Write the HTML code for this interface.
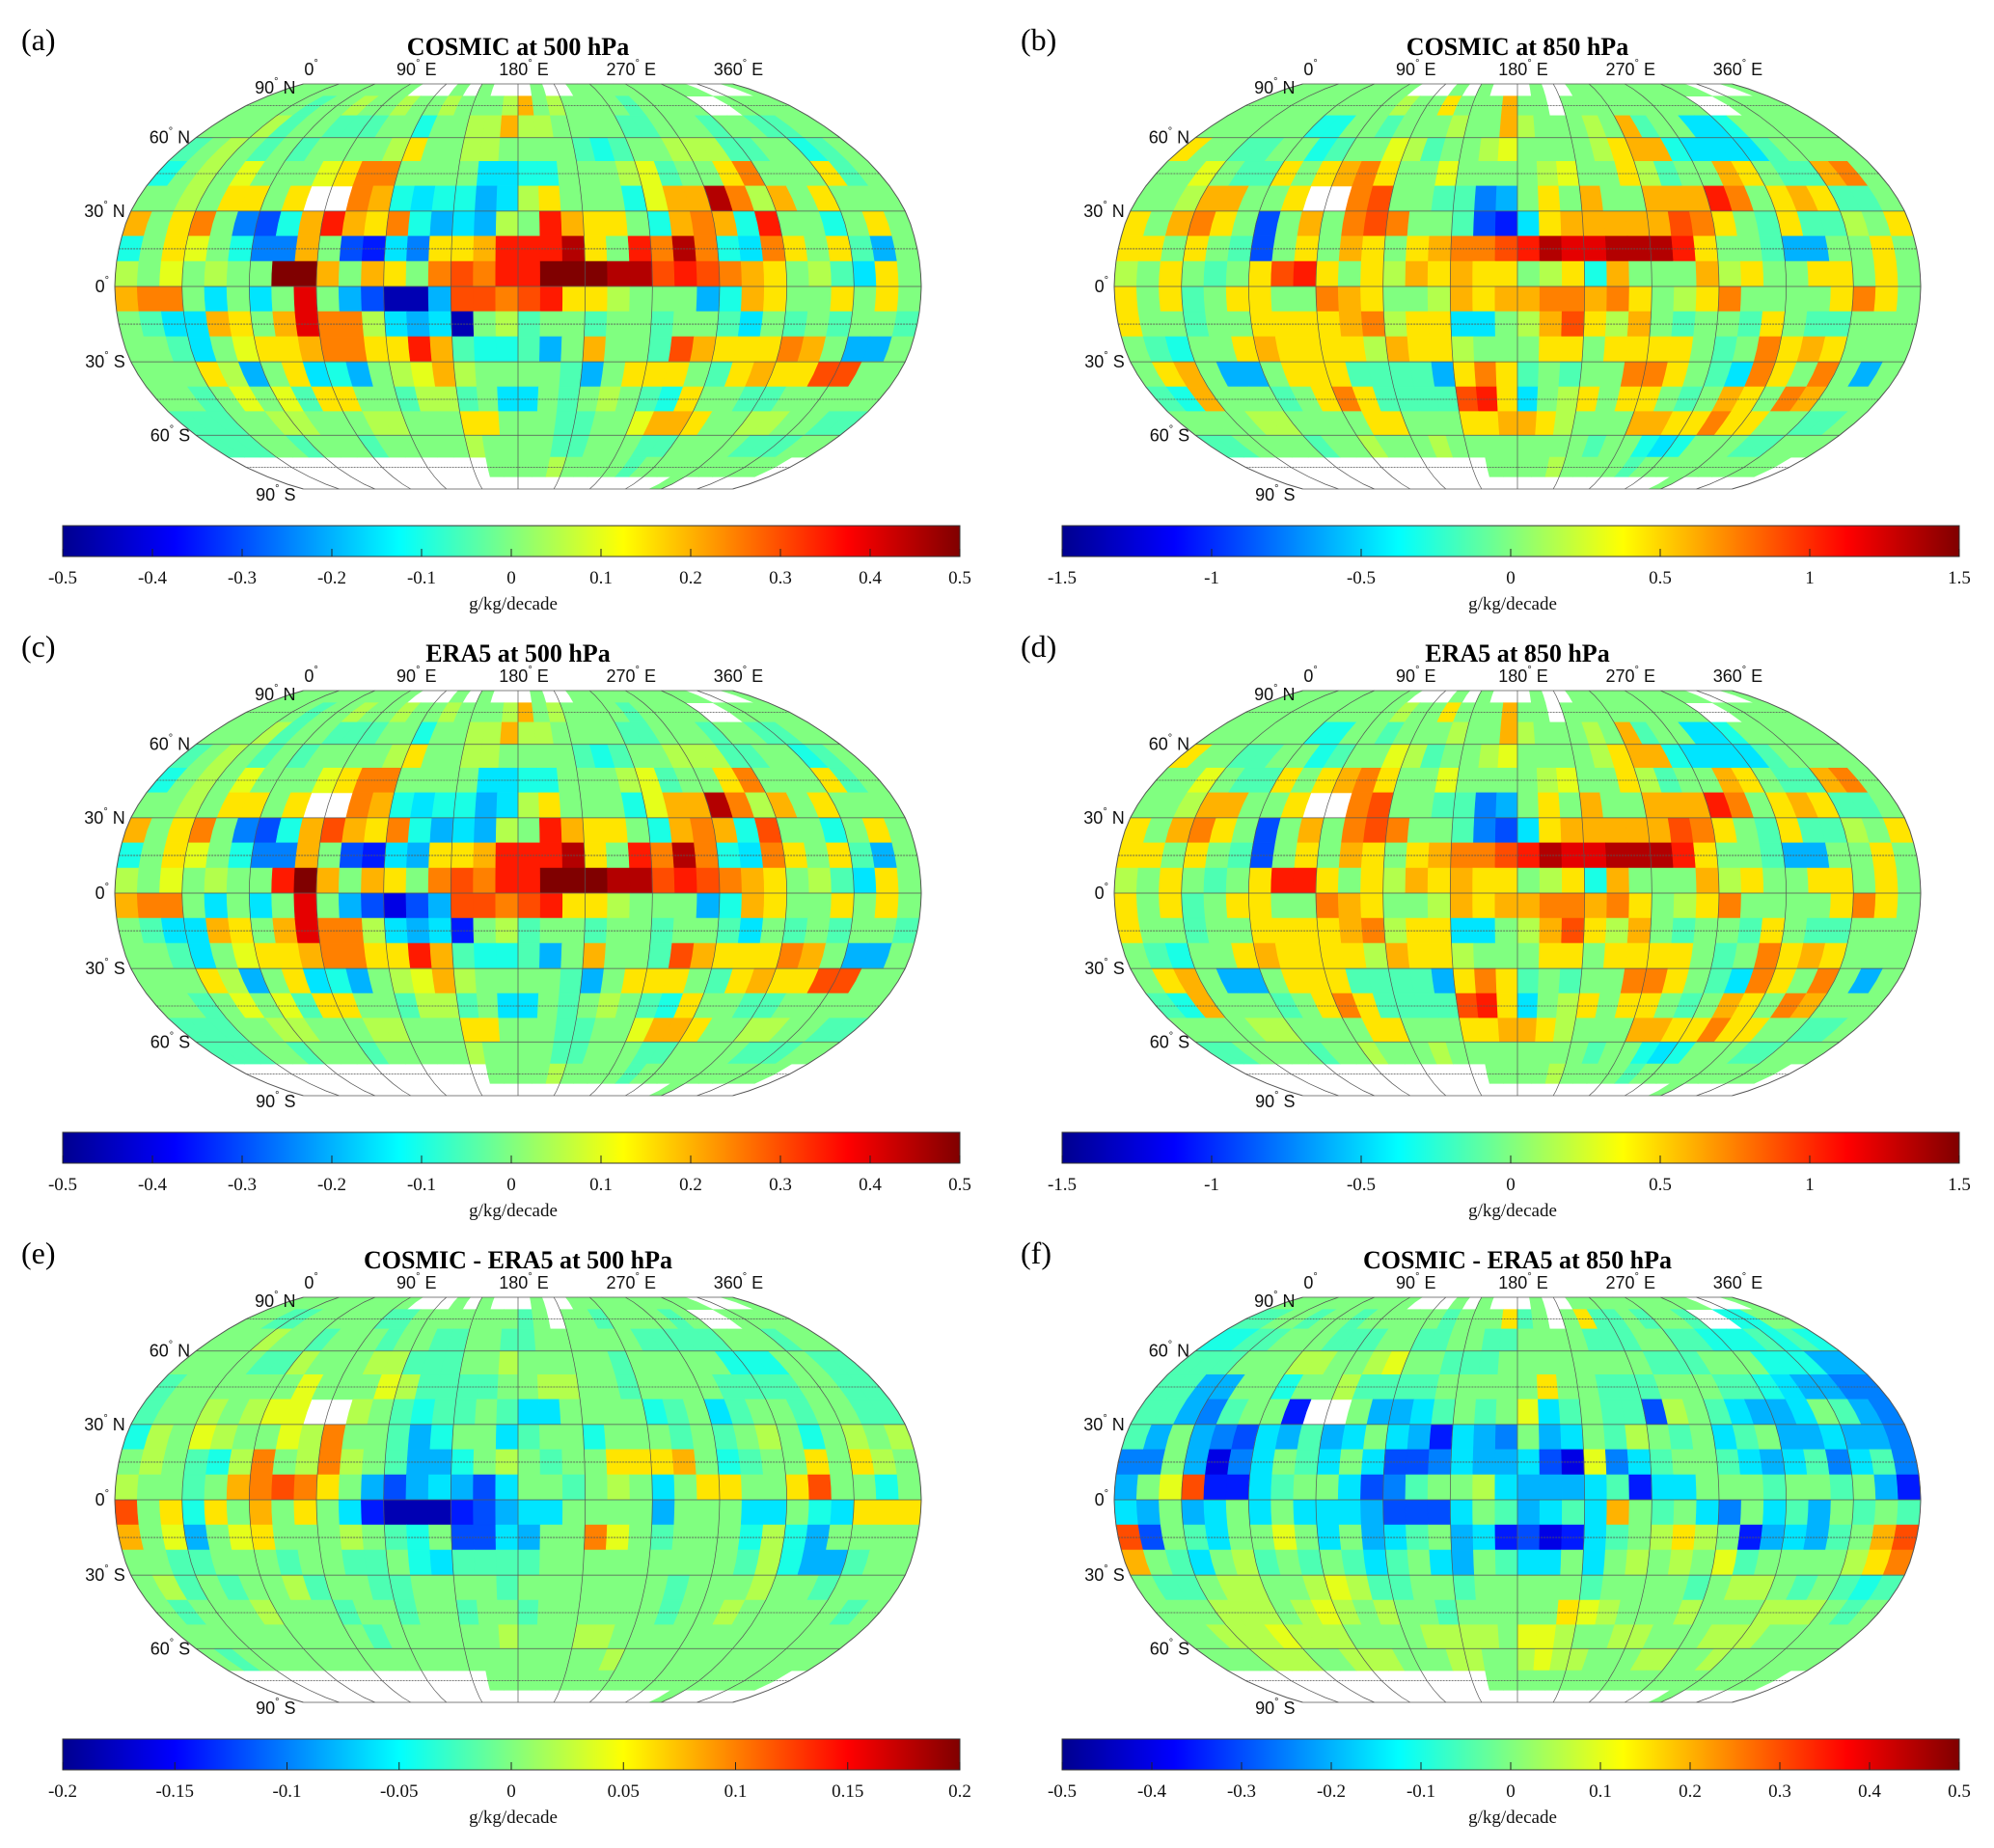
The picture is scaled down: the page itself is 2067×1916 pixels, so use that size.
<!DOCTYPE html>
<html><head><meta charset="utf-8"><title>Moisture trend maps</title>
<style>
html,body{margin:0;padding:0;background:#fff;}
svg{display:block;}
.lbl{font-family:"Liberation Sans",sans-serif;font-size:18px;fill:#111;}
.ttl{font-family:"Liberation Serif",serif;font-size:26px;font-weight:bold;fill:#000;}
.pl{font-family:"Liberation Serif",serif;font-size:32px;fill:#000;}
.tk{font-family:"Liberation Serif",serif;font-size:19px;fill:#111;}
</style></head>
<body>
<svg id="fig" width="2067" height="1916" viewBox="0 0 2067 1916" xmlns="http://www.w3.org/2000/svg">
<defs>
<linearGradient id="jet" x1="0" y1="0" x2="1" y2="0">
<stop offset="0" stop-color="#00008f"/><stop offset="0.125" stop-color="#0000ff"/>
<stop offset="0.375" stop-color="#00ffff"/><stop offset="0.5" stop-color="#80ff80"/>
<stop offset="0.625" stop-color="#ffff00"/><stop offset="0.875" stop-color="#ff0000"/>
<stop offset="1" stop-color="#800000"/></linearGradient>
</defs>
</svg>
<script>
// Level codes: 'K' = 0, each letter step = 0.1 of the colour range; '.' = no data
const panelTitles = ["COSMIC at 500 hPa","COSMIC at 850 hPa","ERA5 at 500 hPa","ERA5 at 850 hPa","COSMIC - ERA5 at 500 hPa","COSMIC - ERA5 at 850 hPa"];
const panelLetters = ["(a)","(b)","(c)","(d)","(e)","(f)"];
const colorRanges = [0.5,1.5,0.5,1.5,0.2,0.5];
const tickLabelsA = ["-0.5","-0.4","-0.3","-0.2","-0.1","0","0.1","0.2","0.3","0.4","0.5"];
const tickLabelsB = ["-1.5","-1","-0.5","0","0.5","1","1.5"];
const tickLabelsE = ["-0.2","-0.15","-0.1","-0.05","0","0.05","0.1","0.15","0.2"];
const tickValuesA = [-0.5,-0.4,-0.3,-0.2,-0.1,0,0.1,0.2,0.3,0.4,0.5];
const tickValuesB = [-1.5,-1,-0.5,0,0.5,1,1.5];
const tickValuesE = [-0.2,-0.15,-0.1,-0.05,0,0.05,0.1,0.15,0.2];
const lonLabels = ["0","90","180","270","360"];
const lonLabelValues = [0,90,180,270,360];
const latLabelValues = [90,60,30,0,-30,-60,-90];

const cosmic500Rows = [
"KKKKKKKKKK...K.K...K..KKKKKKKKKK...K",
"KKKKJKKLKKLKKLKKKLOKLKKKKJKKKK..KKKK",
"KKKLJKKJJJKKIKKLLOLLKKKKJJKKKJKKJJKK",
"JKLKJKJKKKKLNKKLLKKKKJIJKKLLLJJKKIJK",
"IKLKMKKKMNPPKKKKHHIIKKKLMJKKNPKKKNJK",
"KKLKNNKN..POIHIIGHLNKKKIMOOTPLOKNKKK",
"OKNPKFEIORONPIGHGLKRONNKIOPOIRKKIKNK",
"IKNMKIFFOKEDHFNNORRRTNKRPTPIHPNKNJGK",
"LKMKLKKUUOKONKPQPRRUUUTTQRQPONKLJHNK",
"OPPKHKHKSKGEBBGQQPQRNNLKKKGIONKKNKNK",
"KJHHONKOSPPLHGHBKLJKKJKKJKKJHKJKJKKJ",
"KKJHKMNNOPPNNROJIIJGKOKKJQONNNPOKGGK",
"KKKNLGKNHIGKLMOLKKKKJGKNNNKJNONNQQKK",
"KKJKMKMJNNKKJLLJKHHKJKLKJINKKJJKKKKK",
"JJJKKLLKKKLLKKKNNKKKJJKKMOONKKLLKKJJ",
"JJJKKJKKKJKKKKKLKKKKJJKKKJJKKKKJJJKK",
"................KKKKLKKKKJKKKKKKKKK.",
".............................K......"];
const cosmic850Rows = [
"KKKKKKKKKK...K.K...K..KKKKKKKKKK...K",
"KKKKKKKKKKLKKNKKKOKK.KKKKKKKKK..KKKK",
"KKKKKKIIKKJKKKLKKOLKKKLKOJKKHHIKKKKK",
"NKKJJKKIJKKMLJKKLMKKKKLNOOIHHHHJKKKK",
"KKMKJJNKNOPNKKMKKKKLMKKNLJKKONKJJOPK",
"KKLOOKKN..PQKKJJFGKNKOKKOOORPKNONJJK",
"NKOPNKEKOKPQPKKJEDHNOOOOOQPNKJNJJLKN",
"NNKNKJEKNKONKNOPPQRTSSTTTRNKKJGGKKNK",
"LKNKJKNQRNKNLONONNKLNIOKKKOLNKKNNKNK",
"NKNJKNNKKPONKKLONOOPPOPNKLNPKKKKNPNK",
"NKKJKKNNNNOPLNNHHKLOQNLOKJKKJNKJJKKK",
"KJIKKNONNNNLONNLKKKNNKNNNNKJKPNONKKK",
"KNOKGGKNNNJJJJGNPNJKJKKPPNKJHPNKPKGK",
"JIOKKKJKNPNJJJJQRNHKLNKNNKJKONKPOKKK",
"KKKKLLKKKKNNKKKNNOONLKKKOONNPNNKKJJK",
"JJKKKKJKKLKKKLKKKKKKKKJKKIHIKKKJJKKK",
"................KKKKLKKKKJKKKKKKKKK.",
".............................K......"];
const era500Rows = [
"KKKKKKKKKK...K.K...K..KKKKKKKKKK...K",
"KKKKJKKLKKLKKLKKKLOKLKKKKJKKKK..KKKK",
"KKKLJKKJJJKKIKKLLOLLKKKKJJKKKJKKJJKK",
"JKLKJKJKKKKLNKKLLKKKKJIJKKLLLJJKKIJK",
"IKLKMKKKMNPPKKKKHHIIKKKLMJKKNPKKKNJK",
"KKLKNNKN..POIHIIGHLNKKKIMOOTPLOKNKKK",
"OKNPKFEIOQONPIGHGLKRONNKIOPOIQKKIKNK",
"IKNMKIFFOKEDHGNNORRRTNKRPTPIHPNKNJGK",
"LKMKLKKRUOKONKPQPRRUUUTTQRQPONKLJHNK",
"OPPKHKHKSKGECEGQQPQRNNLKKKGIONKKNKNK",
"KJHHONKOSPPLHGHDKLJKKJKKJKKJHKJKJKKJ",
"KKJHKMNNOPPNNROJIIJGKOKKJQONNNPOKGGK",
"KKKNLGKNHIGKLMOLKKKKJGKNNNKJNONNQQKK",
"KKJKMKMJNNKKJLLJKHHKJKLKJINKKJJKKKKK",
"JJJKKLLKKKLLKKKNNKKKJJKKMOONKKLLKKJJ",
"JJJKKJKKKJKKKKKLKKKKJJKKKJJKKKKJJJKK",
"................KKKKLKKKKJKKKKKKKKK.",
".............................K......"];
const era850Rows = [
"KKKKKKKKKK...K.K...K..KKKKKKKKKK...K",
"KKKKKKKKKKLKKNKKKOKK.KKKKKKKKK..KKKK",
"KKKKKKIIKKJKKKLKKOLKKKLKOJKKHHIKKKKK",
"NKKJJKKIJKKMLJKKLMKKKKLNOOIHHHHJKKKK",
"KKMKJJNKNOPNKKMKKKKLMKKNLJKKONKJJOPK",
"KKLOOKKN..PQKKJJFGKNKOKKOOORPKNONJJK",
"NKOPNKEKOKPQPKKJFEHNOOOOOQPNKJNJJLKN",
"NNKNKJEKNKONKNOPPQRTSSTTTRNKKJGGKKNK",
"LKNKJKNRRNKNLONONNKLNIOKKKOLNKKNNKNK",
"NKNJKNNKKPONKKLONOOPPOPNKLNPKKKKNPNK",
"NKKJKKNNNNOPLNNHHKLOQNLOKJKKJNKJJKKK",
"KJIKKNONNNNLONNLKKKNNKNNNNKJKPNONKKK",
"KNOKGGKNNNJJJJGNPNJKJKKPPNKJHPNKPKGK",
"JIOKKKJKNPNJJJJQRNHKLNKNNKJKONKPOKKK",
"KKKKLLKKKKNNKKKNNOONLKKKOONNPNNKKJJK",
"JJKKKKJKKLKKKLKKKKKKKKJKKIHIKKKJJKKK",
"................KKKKLKKKKJKKKKKKKKK.",
".............................K......"];
const diff500Rows = [
"KKKKKKKKKK...K.K...K..KKKKKKKKKK...K",
"KKJJKKKKKJJKKKKKKKJK.KKJKKKKJK..KKKK",
"KKKLKKJKKKJKKJJKKJJKKKKKKJJJJJKKKJKK",
"KKKKJJLKKKLLJJJKKLKKKKKJKKKKKIIIKKJJ",
"JKKKKKKMKKKMLJJJJKKLLKKJKKKKJJJJKKJJ",
"JKKLKLMM..LKJIJJKJHHKKKKIJKHJKKJKKJJ",
"ILKMLKKMLPKKJGIKKHJKKIKKKJKJKLKIKLKL",
"KLKJILPKLPLKJGGIKLKJKKNNNOKIJKKNKNLK",
"LKKJKOPQPNKGEGHGEHKKJKLKHKNNKKNQKKIK",
"QKNINKOKNKHDBBBDEGHHKKKKGKKKHHKIHNNN",
"OKMGKMNKKKLKJIKEEHGKKPMKJKKKILIGKKKK",
"KKJJKKKJKKJJKIHJJJJKKKKKKKKKJLIGGJKK",
"KLJKJKKLJKKJJKKKKJKKKKKKKJKKKLKKJKKK",
"KJKKKLKKKJKKJKKJKKJKKKKKKJKKLKKKKKJK",
"KKKKKKKKKKJKKKKKKLKKKLLKKKKKKKKKKKKK",
"KJKKKKKKKKKKKKKKKKKKKKKLKKKKKKKKKKKK",
"................KKKKKKKKKKKKKKKKKKK.",
".............................K......"];
const diff850Rows = [
"KKKKKKKKKK...K.K...K..KKKKKKKKKK...K",
"JJKKJKKJKKKKKJKKKNJK.KNJJKJKKJ..IIKK",
"IIJJKKKJJJKKJJKKJJKKKKJJJKKJJIIIJIJI",
"JJJKKKLLKKLMKKJJJKKKKKKKKJJJKKKIIIGG",
"JJGGKKIKKLJJJJKKKKKNKKJJJKKKJJIHGGFF",
"JJGFJKKD..KGGHJKJKMHJKJJELKJHGGHKJGF",
"JGKGFEHGJGHKHGDHGFKGHKJLKJKHJKGGHGGF",
"FFKGCFHKJHKHEEFHGGHECMFHJKKJHGHJFHJF",
"GKMQDDHJKKHEFJKKLHGGGHJDHHKKKJKKJKGD",
"HGKGHKHKHHHGEEEHKJGHJHOKJKHFKHJGKJKJ",
"QEKJHKKMKHKGHJKGHDECDHJKLNLKDGHGJKOQ",
"OKJHKLJKJKJHJKHGKJHHKHKLKLKMJKKKKLNP",
"KJJKLLKKLMLJJKKJKKKKKJKKKKJKLLKJKJIJ",
"KKKLLLKLMLKLKKJKKKKKNMLKKKLKKKLLLKJK",
"KKLLLMLLLKKKKLLLLKMMLKKLLKKKLLLKKKKK",
"KKKLLLKKLLLKKKLLKKLMLLKKKLLKKLKKKKKK",
"................KKKKKKKKKKKKKKKKKKK.",
".............................K......"];
const panelRows = [cosmic500Rows,cosmic850Rows,era500Rows,era850Rows,diff500Rows,diff850Rows];

// Robinson projection tables (5 degree steps)
const robX=[1,0.9986,0.9954,0.99,0.9822,0.973,0.96,0.9427,0.9216,0.8962,0.8679,0.835,0.7986,0.7597,0.7186,0.6732,0.6213,0.5722,0.5322];
const robY=[0,0.062,0.124,0.186,0.248,0.31,0.372,0.434,0.4958,0.5571,0.6176,0.6769,0.7346,0.7903,0.8435,0.8936,0.9394,0.9761,1];
function rob(tab,lat){const a=Math.min(90,Math.abs(lat))/5;const i=Math.min(17,Math.floor(a));const f=a-i;return tab[i]+(tab[i+1]-tab[i])*f;}
const CX=537,CY=297,HW=418,HH=210;
function px(lon,lat,ox){return ox+CX+(lon-180)/180*HW*rob(robX,lat);}
function py(lat,oy){return oy+CY-Math.sign(lat)*HH*rob(robY,lat);}
function clamp(v){return Math.max(0,Math.min(1,v));}
function jet(t){const r=clamp(1.5-Math.abs(4*t-3)),g=clamp(1.5-Math.abs(4*t-2)),b=clamp(1.5-Math.abs(4*t-1));
 return "rgb("+Math.round(r*255)+","+Math.round(g*255)+","+Math.round(b*255)+")";}
function decode(ch,maxV){if(ch==='.'||ch===undefined)return null;return (ch.charCodeAt(0)-75)/10*maxV;}

const NS="http://www.w3.org/2000/svg";
const svg=document.getElementById('fig');
function mk(tag,attrs,parent){const e=document.createElementNS(NS,tag);for(const k in attrs)e.setAttribute(k,attrs[k]);(parent||svg).appendChild(e);return e;}
function degText(parent,x,y,num,suffix,anchor,name){
 const t=mk('text',{x:x,y:y,'class':'lbl','text-anchor':anchor},parent);
 
 
 t.appendChild(document.createTextNode(num));
 const s=mk('tspan',{dy:-9,'font-size':11},t);s.textContent='°';
 const s2=mk('tspan',{dy:9},t);s2.textContent=suffix?'\u00a0'+suffix:'';
 return t;}

for(let p=0;p<6;p++){
 const ox=(p%2)*1036, oy=Math.floor(p/2)*629;
 const maxV=colorRanges[p];
 const g=mk('g',{});
 
 
 const pl=mk('text',{x:ox+22,y:oy+52,'class':'pl'},g);pl.textContent=panelLetters[p];
 
 
 const tt=mk('text',{x:ox+537,y:oy+57,'class':'ttl','text-anchor':'middle'},g);tt.textContent=panelTitles[p];
 
 
 // cells
 const cg=mk('g',{},g);
 
 
 const rows=panelRows[p];
 for(let r=0;r<18;r++){
  const latT=90-10*r, latB=80-10*r;
  for(let c=0;c<36;c++){
   const v=decode(rows[r][c],maxV);
   if(v===null)continue;
   const l0=10*c,l1=10*c+10;
   const lats=[latT,latT-5,latB];
   let pts=[];
   lats.forEach(la=>pts.push(px(l0,la,ox).toFixed(1)+','+py(la,oy).toFixed(1)));
   lats.slice().reverse().forEach(la=>pts.push(px(l1,la,ox).toFixed(1)+','+py(la,oy).toFixed(1)));
   const col=jet(clamp((v/maxV+1)/2));
   const poly=mk('polygon',{points:pts.join(' '),fill:col,stroke:col,'stroke-width':0.6},cg);
   
   
  }
 }
 // graticule
 const gg=mk('g',{fill:'none',stroke:'#555','stroke-width':0.8},g);
 
 
 for(let lon=0;lon<=360;lon+=30){
  let d='';for(let la=90;la>=-90;la-=5){d+=(la===90?'M':'L')+px(lon,la,ox).toFixed(1)+','+py(la,oy).toFixed(1);}
  mk('path',{d:d,'stroke-width':(lon===0||lon===360)?1:0.7},gg);
 }
 for(let la=-90;la<=90;la+=15){
  mk('line',{x1:px(0,la,ox),y1:py(la,oy),x2:px(360,la,ox),y2:py(la,oy),'stroke-dasharray':la%30===0?'none':'2,1'},gg);
 }
 // lon labels
 lonLabels.forEach((s,i)=>{degText(g,px(lonLabelValues[i],90,ox)+(i===0?8:6),oy+78,s,i===0?'':'E','middle','longitude-label');});
 // lat labels
 latLabelValues.forEach(la=>{
  const x=px(0,la,ox)-6, y=py(la,oy)+6;
  const s=Math.abs(la)+'';const suf=la>0?'N':(la<0?'S':'');
  degText(g,la===90||la===-90?x-2:x,la===-90?y+6:(la===90?y+4:y),s,suf,'end','latitude-label');
 });
 // colorbar
 const cbx=ox+65,cbw=930,cby=oy+545,cbh=32;
 const cb=mk('rect',{x:cbx,y:cby,width:cbw,height:cbh,fill:'url(#jet)',stroke:'#333','stroke-width':1},g);
 
 
 const tl=p===1||p===3?tickLabelsB:(p===4?tickLabelsE:tickLabelsA);
 const tv=p===1||p===3?tickValuesB:(p===4?tickValuesE:tickValuesA);
 tv.forEach((v,i)=>{
  const x=cbx+(v/maxV+1)/2*cbw;
  mk('line',{x1:x,y1:cby+cbh,x2:x,y2:cby+cbh-8,stroke:'#222','stroke-width':1},g);
  const t=mk('text',{x:x,y:oy+605,'class':'tk','text-anchor':'middle'},g);t.textContent=tl[i];
  
  
 });
 const ul=mk('text',{x:ox+532,y:oy+632,'class':'tk','text-anchor':'middle'},g);ul.textContent='g/kg/decade';
 
 
}
</script>
</body></html>
